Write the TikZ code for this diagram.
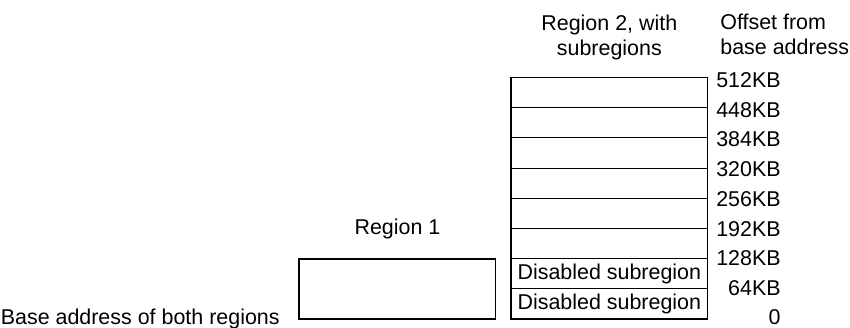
\documentclass[tikz,border=0pt]{standalone}
\usepackage{fontspec}
\setmainfont{Liberation Sans}
\usetikzlibrary{positioning}

\begin{document}
\begin{tikzpicture} [
                x=0.02cm, y=-0.02cm,
                every node/.style={font=\fontsize{12.2}{14}\selectfont},
                subbox/.style={draw,line width=0.6pt,minimum width=3.934cm,minimum height=0.604cm,inner sep=0pt,outer sep=0pt},
                regbox/.style={draw,line width=0.6pt,minimum width=3.94cm,minimum height=1.2cm,inner sep=0pt,outer sep=0pt},
                offset/.style={anchor=east,inner sep=0pt},
                caption/.style={inner sep=0pt},
            ]
            \useasboundingbox (0,0) rectangle (850,328);
            % region 2, stacked from the bottom up
            \node[subbox,anchor=south west] (s1) at (511,319) {Disabled subregion};
            \node[subbox,above=0pt of s1] (s2) {Disabled subregion};
            \foreach \i [count=\j from 2] in {3,...,8}
                \node[subbox,above=0pt of s\j] (s\i) {};
            % region 1
            \node[regbox,anchor=south west] (r1) at (299,319) {};
            % offsets
            \coordinate (ocol) at (781,0);
            \node[offset] (o0) at ([yshift=0.03cm]s1.south east -| ocol) {0};
            \foreach \i/\kb in {
                    1/64,2/128,3/192,4/256,5/320,6/384,7/448,8/512}
                \node[offset] (o\i) at ([yshift={(1-0.44*\i)*0.02cm}]s\i.north east -| ocol) {\kb KB};
            % captions
            \node[caption,align=center,above=0.35cm of s8] (t2) {Region 2, with\\subregions};
            \node[caption,align=left,anchor=south west] (to) at (720,55) {Offset from\\base address};
            \node[caption,above=0.39cm of r1] (t1) {Region 1};
            \node[caption,left=0.38cm of r1.south west] (tb) {Base address of both regions};
        \end{tikzpicture}
\end{document}
